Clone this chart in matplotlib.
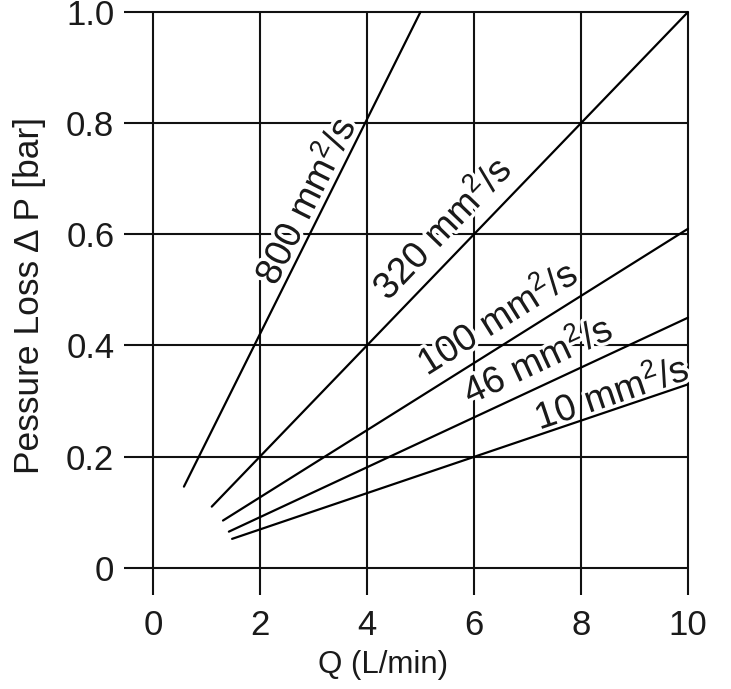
import matplotlib
matplotlib.use('Agg')
import matplotlib.pyplot as plt
import matplotlib.patheffects as pe
import numpy as np

plt.rcParams['font.family'] = ['Liberation Sans', 'DejaVu Sans']
plt.rcParams['mathtext.fontset'] = 'custom'
plt.rcParams['mathtext.rm'] = 'Liberation Sans'
plt.rcParams['mathtext.it'] = 'Liberation Sans'

# viscosity curves: (start, end) points
labels = ['800 mm$^2$/s', '320 mm$^2$/s', '100 mm$^2$/s', '46 mm$^2$/s', '10 mm$^2$/s']
q_start = [0.58, 1.10, 1.31, 1.42, 1.48]
p_start = [0.146, 0.11, 0.085, 0.065, 0.052]
q_end = [5.0, 10.0, 10.0, 10.0, 10.0]
p_end = [1.0, 1.0, 0.61, 0.45, 0.33]

# where each label sits
label_q = [2.87, 5.42, 6.45, 7.2, 8.58]
label_p = [0.66, 0.61, 0.448, 0.372, 0.313]

xticks = [0, 2, 4, 6, 8, 10]
yticks = [0, 0.2, 0.4, 0.6, 0.8, 1.0]
yticklabels = ['0', '0.2', '0.4', '0.6', '0.8', '1.0']

fig = plt.figure(figsize=(7.31, 6.89), dpi=100)
ax = fig.add_axes([124 / 731, 1 - 595 / 689, (688 - 124) / 731, (595 - 12) / 689])
xmin, ymin = -0.54, -0.049
ax.set_xlim(xmin, 10)
ax.set_ylim(ymin, 1.0)
for s in ax.spines.values():
    s.set_visible(False)

ax.hlines(yticks, xmin, 10, color='#111111', lw=1.5, clip_on=False, zorder=1)
ax.vlines(xticks, ymin, 1.0, color='#111111', lw=1.5, clip_on=False, zorder=1)

for i in range(len(labels)):
    ax.plot([q_start[i], q_end[i]], [p_start[i], p_end[i]], color='black', lw=1.6,
            solid_capstyle='round', clip_on=False, zorder=4)
    # screen angle of the line
    p1 = ax.transData.transform((q_start[i], p_start[i]))
    p2 = ax.transData.transform((q_end[i], p_end[i]))
    ang = np.degrees(np.arctan2(p2[1] - p1[1], p2[0] - p1[0]))
    ax.text(label_q[i], label_p[i], labels[i], rotation=ang, rotation_mode='anchor',
            ha='center', va='center', fontsize=27, color='#1a1a1a', zorder=3,
            path_effects=[pe.withStroke(linewidth=5, foreground='white')])

ax.set_xticks(xticks)
ax.set_xticklabels([str(t) for t in xticks])
ax.set_yticks(yticks)
ax.set_yticklabels(yticklabels)
ax.tick_params(axis='both', length=0, labelsize=25, colors='#1a1a1a')
ax.tick_params(axis='x', pad=10)
ax.tick_params(axis='y', pad=7)

fig.text(383 / 731, 1 - 665 / 689, 'Q (L/min)', fontsize=22.5, color='#1a1a1a',
         ha='center', va='center')
fig.text(30 / 731, 1 - 295 / 689, 'Pessure Loss Δ P [bar]', fontsize=25.5,
         color='#1a1a1a', ha='center', va='center', rotation=90)

fig.savefig('out.png', dpi=100)
